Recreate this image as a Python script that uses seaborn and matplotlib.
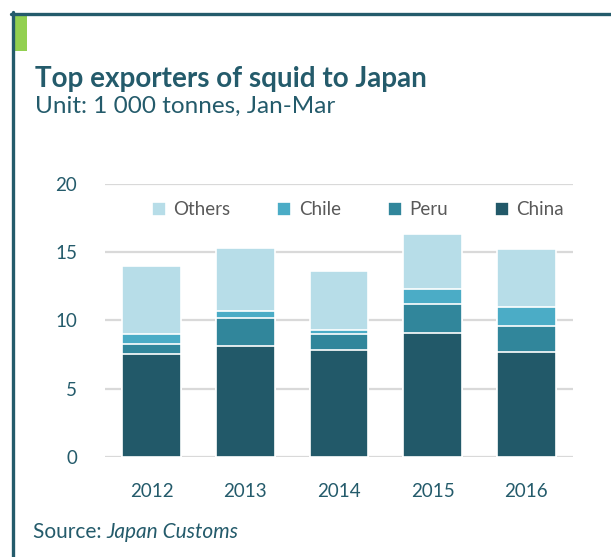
import numpy as np
import pandas as pd
import seaborn as sns
import matplotlib.pyplot as plt
from matplotlib.patches import Rectangle
from matplotlib.lines import Line2D

years = ["2012", "2013", "2014", "2015", "2016"]
china = [7.5, 8.1, 7.8, 9.1, 7.7]
peru = [0.8, 2.1, 1.2, 2.1, 1.9]
chile = [0.7, 0.5, 0.3, 1.1, 1.4]
others = [5.0, 4.6, 4.3, 4.0, 4.2]

series = ["China", "Peru", "Chile", "Others"]
colors = {"China": "#225969", "Peru": "#31869b", "Chile": "#4bacc6", "Others": "#b7dde8"}
teal = "#245b6b"

sns.set_theme(style="white")
plt.rcParams["font.family"] = ["Lato", "DejaVu Sans"]

df = pd.DataFrame({"year": years, "China": china, "Peru": peru,
                   "Chile": chile, "Others": others})
# cumulative stacks, drawn tallest first
cum = df[series].cumsum(axis=1)

fig = plt.figure(figsize=(6.11, 5.57), dpi=100)
ax = fig.add_axes([105 / 611, 1 - 456.7 / 557, 468 / 611, 272.7 / 557])

for s in reversed(series):
    sns.barplot(x=df["year"], y=cum[s], color=colors[s], width=0.63, saturation=1,
                edgecolor="white", linewidth=1.2, label=s, ax=ax)

ax.set_ylim(0, 20)
ax.set_xlim(-0.5, 4.5)
ax.set_yticks([0, 5, 10, 15, 20])
ax.yaxis.grid(True, color="#d9d9d9", linewidth=1.6)
ax.set_axisbelow(True)
for sp in ax.spines.values():
    sp.set_visible(False)
ax.set_xlabel("")
ax.set_ylabel("")
ax.tick_params(axis="both", length=0, labelsize=13.5, labelcolor=teal)
ax.tick_params(axis="x", pad=19)
ax.tick_params(axis="y", pad=20)

leg = ax.legend(loc="center", bbox_to_anchor=(0.54, 0.905), ncol=4, frameon=False,
                fontsize=13.5, handlelength=0.75, handleheight=0.75,
                handletextpad=0.4, columnspacing=2.5, borderaxespad=0)
for t in leg.get_texts():
    t.set_color("#595959")

# frame and tab
fig.add_artist(Line2D([12.5 / 611, 12.5 / 611], [0, 1 - 12 / 557], color=teal, lw=2.4))
fig.add_artist(Line2D([11 / 611, 1], [1 - 13.5 / 557, 1 - 13.5 / 557], color=teal, lw=2.4))
fig.add_artist(Rectangle((14 / 611, 1 - 51 / 557), 13 / 611, 36 / 557,
                         transform=fig.transFigure, color="#92d050", lw=0))

fig.text(35 / 611, 1 - 87 / 557, "Top exporters of squid to Japan", fontsize=20,
         fontweight="bold", color=teal, va="baseline")
fig.text(35 / 611, 1 - 113 / 557, "Unit: 1 000 tonnes, Jan-Mar", fontsize=17.5,
         color=teal, va="baseline")
src = fig.text(33 / 611, 1 - 538 / 557, "Source: ", fontsize=15, color=teal, va="baseline")
fig.canvas.draw()
bb = src.get_window_extent()
fig.text(bb.x1 / fig.bbox.width, 1 - 538 / 557, "Japan Customs", fontsize=15,
         color=teal, style="italic", va="baseline")

fig.savefig("out.png", dpi=100)
